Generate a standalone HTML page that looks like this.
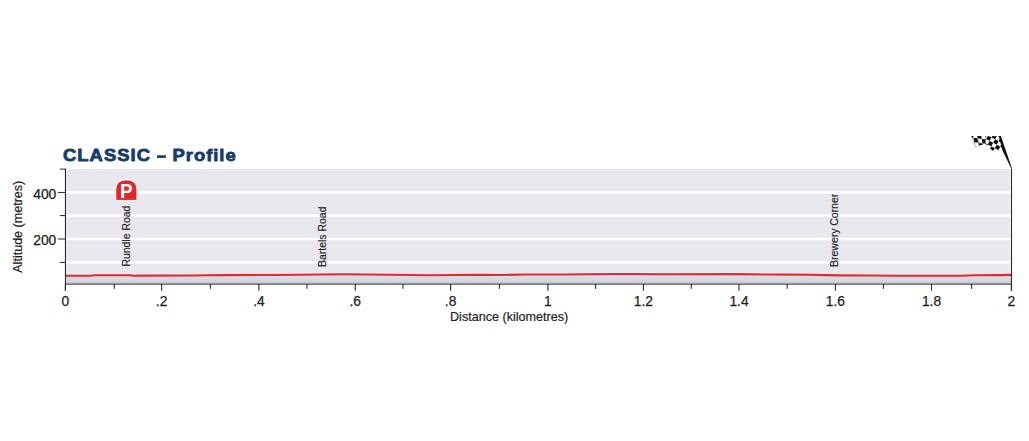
<!DOCTYPE html>
<html><head><meta charset="utf-8"><style>
html,body{margin:0;padding:0;background:#fff;}
body{width:1029px;height:441px;overflow:hidden;}
svg{display:block;}
text{font-family:"Liberation Sans",sans-serif;}
.t{font-size:13.8px;fill:#1e1e1e;stroke:#1e1e1e;stroke-width:0.25px;}
.a{font-size:12.2px;fill:#1e1e1e;stroke:#1e1e1e;stroke-width:0.2px;}
.a2{font-size:12.4px;fill:#1e1e1e;stroke:#1e1e1e;stroke-width:0.2px;}
.p{font-size:10.45px;fill:#1e1e1e;stroke:#1e1e1e;stroke-width:0.15px;}
.title{font-size:17px;font-weight:bold;fill:#163c69;stroke:#163c69;stroke-width:0.8px;stroke-linejoin:round;}
.pi{font-size:18.8px;font-weight:bold;fill:#fff;}
</style></head><body>
<svg width="1029" height="441" viewBox="0 0 1029 441">
<defs><linearGradient id="g" x1="0" y1="0" x2="0" y2="1"><stop offset="0" stop-color="#e2e2ea"/><stop offset="1" stop-color="#cfcfda"/></linearGradient><pattern id="chk" x="0" y="0" width="6" height="6" patternUnits="userSpaceOnUse"><rect width="6" height="6" fill="#fff"/><rect width="3" height="3" fill="#111"/><rect x="3" y="3" width="3" height="3" fill="#111"/></pattern></defs>
<rect x="66" y="169" width="944.2" height="116" fill="#e9e8ee"/>
<rect x="66" y="191.20" width="944.2" height="2.5" fill="#ffffff"/>
<rect x="66" y="214.35" width="944.2" height="2.5" fill="#ffffff"/>
<rect x="66" y="237.75" width="944.2" height="2.5" fill="#ffffff"/>
<rect x="66" y="261.15" width="944.2" height="2.5" fill="#ffffff"/>
<path d="M66,275.8 L91,275.75 L94,275.3 L130,275.3 L134,275.7 L140,275.6 L195,275.5 L206,275.2 L225,275.1 L276,275 L300,274.8 L320,274.45 L345,274.3 L365,274.55 L390,274.8 L430,275.2 L455,275 L480,274.85 L503,274.95 L525,274.45 L565,274.55 L585,274.3 L615,273.95 L638,273.95 L660,274.2 L740,274.1 L767,274.5 L790,274.6 L810,274.8 L825,275.1 L840,275.35 L870,275.5 L900,275.7 L960,275.7 L975,275.3 L1000,275.1 L1011,274.9 L1011,284 L66,284 Z" fill="url(#g)"/>
<path d="M66,275.8 L91,275.75 L94,275.3 L130,275.3 L134,275.7 L140,275.6 L195,275.5 L206,275.2 L225,275.1 L276,275 L300,274.8 L320,274.45 L345,274.3 L365,274.55 L390,274.8 L430,275.2 L455,275 L480,274.85 L503,274.95 L525,274.45 L565,274.55 L585,274.3 L615,273.95 L638,273.95 L660,274.2 L740,274.1 L767,274.5 L790,274.6 L810,274.8 L825,275.1 L840,275.35 L870,275.5 L900,275.7 L960,275.7 L975,275.3 L1000,275.1 L1011,274.9" fill="none" stroke="#e02a32" stroke-width="2.1" stroke-linejoin="round"/>
<defs><linearGradient id="bd" x1="0" y1="0" x2="0" y2="1"><stop offset="0" stop-color="#a4a4ac"/><stop offset="1" stop-color="#6c6c74"/></linearGradient></defs><rect x="66" y="282.9" width="945" height="2.1" fill="url(#bd)"/>
<rect x="64.9" y="168.5" width="1.1" height="122.5" fill="#2a2a2a"/>
<rect x="1010.95" y="168.5" width="1.1" height="122.3" fill="#2a2a2a"/>
<rect x="59.7" y="168.6" width="5.5" height="1" fill="#2a2a2a"/>
<rect x="58" y="191.95" width="7" height="1" fill="#2a2a2a"/>
<rect x="59.8" y="215.10" width="5.2" height="1" fill="#2a2a2a"/>
<rect x="58" y="238.50" width="7" height="1" fill="#2a2a2a"/>
<rect x="59.8" y="261.90" width="5.2" height="1" fill="#2a2a2a"/>
<rect x="64.85" y="284" width="1.1" height="6.7" fill="#2a2a2a"/>
<rect x="161.05" y="284" width="1.1" height="6.7" fill="#2a2a2a"/>
<rect x="258.35" y="284" width="1.1" height="6.7" fill="#2a2a2a"/>
<rect x="354.75" y="284" width="1.1" height="6.7" fill="#2a2a2a"/>
<rect x="450.05" y="284" width="1.1" height="6.7" fill="#2a2a2a"/>
<rect x="547.35" y="284" width="1.1" height="6.7" fill="#2a2a2a"/>
<rect x="642.85" y="284" width="1.1" height="6.7" fill="#2a2a2a"/>
<rect x="738.45" y="284" width="1.1" height="6.7" fill="#2a2a2a"/>
<rect x="834.85" y="284" width="1.1" height="6.7" fill="#2a2a2a"/>
<rect x="930.95" y="284" width="1.1" height="6.7" fill="#2a2a2a"/>
<rect x="1010.85" y="284" width="1.1" height="6.7" fill="#2a2a2a"/>
<rect x="113.75" y="284" width="1.1" height="4.8" fill="#2a2a2a"/>
<rect x="209.85" y="284" width="1.1" height="4.8" fill="#2a2a2a"/>
<rect x="306.45" y="284" width="1.1" height="4.8" fill="#2a2a2a"/>
<rect x="402.45" y="284" width="1.1" height="4.8" fill="#2a2a2a"/>
<rect x="498.85" y="284" width="1.1" height="4.8" fill="#2a2a2a"/>
<rect x="595.05" y="284" width="1.1" height="4.8" fill="#2a2a2a"/>
<rect x="690.75" y="284" width="1.1" height="4.8" fill="#2a2a2a"/>
<rect x="786.55" y="284" width="1.1" height="4.8" fill="#2a2a2a"/>
<rect x="882.85" y="284" width="1.1" height="4.8" fill="#2a2a2a"/>
<rect x="971.05" y="284" width="1.1" height="4.8" fill="#2a2a2a"/>
<text x="65.40" y="305.6" text-anchor="middle" class="t">0</text>
<text x="161.60" y="305.6" text-anchor="middle" class="t">.2</text>
<text x="258.90" y="305.6" text-anchor="middle" class="t">.4</text>
<text x="355.30" y="305.6" text-anchor="middle" class="t">.6</text>
<text x="450.60" y="305.6" text-anchor="middle" class="t">.8</text>
<text x="547.90" y="305.6" text-anchor="middle" class="t">1</text>
<text x="643.40" y="305.6" text-anchor="middle" class="t">1.2</text>
<text x="739.00" y="305.6" text-anchor="middle" class="t">1.4</text>
<text x="835.40" y="305.6" text-anchor="middle" class="t">1.6</text>
<text x="931.50" y="305.6" text-anchor="middle" class="t">1.8</text>
<text x="1011.40" y="305.6" text-anchor="middle" class="t">2</text>
<text x="56.3" y="198.7" text-anchor="end" class="t">400</text>
<text x="56.3" y="245.3" text-anchor="end" class="t">200</text>
<text x="509.1" y="320.7" text-anchor="middle" class="a" textLength="118.2" lengthAdjust="spacingAndGlyphs">Distance (kilometres)</text>
<text transform="translate(22.3,226.75) rotate(-90)" text-anchor="middle" class="a2" textLength="92" lengthAdjust="spacingAndGlyphs">Altitude (metres)</text>
<text transform="translate(63.0,160.5) scale(1.08,1.001)" class="title" textLength="80.5" lengthAdjust="spacing">CLASSIC</text>
<rect x="157" y="155.3" width="8.9" height="2.6" fill="#163c69"/>
<text transform="translate(172.5,160.5) scale(1.08,1.001)" class="title" textLength="58.5" lengthAdjust="spacing">Profile</text>
<text transform="translate(130,266.6) rotate(-90)" class="p">Rundle Road</text>
<text transform="translate(326.3,266.9) rotate(-90)" class="p">Bartels Road</text>
<text transform="translate(838.3,266.9) rotate(-90)" class="p">Brewery Corner</text>
<path d="M115.8,200.4 L115.8,190 C115.8,183.2 119.6,179.9 126.35,179.9 C133.1,179.9 136.9,183.2 136.9,190 L136.9,200.4 Z" fill="#e2262d" stroke="#ffffff" stroke-width="1" stroke-opacity="0.9"/>
<text transform="translate(126.3,197.9) scale(1,1.09)" text-anchor="middle" class="pi">P</text>
<defs><pattern id="chk2" x="0" y="0" width="8.4" height="8.4" patternUnits="userSpaceOnUse" patternTransform="translate(973.5,137.8) rotate(8) skewX(18)"><rect width="8.4" height="8.4" fill="#fff"/><rect width="4.2" height="4.2" fill="#111"/><rect x="4.2" y="4.2" width="4.2" height="4.2" fill="#111"/></pattern>
<pattern id="chk3" x="0" y="0" width="8" height="8" patternUnits="userSpaceOnUse" patternTransform="translate(988,135.5) rotate(28)"><rect width="8" height="8" fill="#fff"/><rect width="4" height="4" fill="#111"/><rect x="4" y="4" width="4" height="4" fill="#111"/></pattern>
<clipPath id="fc1"><path d="M971.3,136.1 L987,136.1 L986.9,143.6 L980.3,145.3 L975.7,147.0 Z"/></clipPath>
<clipPath id="fc2"><path d="M985.8,136.3 L1000.3,136.1 L1003.4,148.9 L999.7,149.9 L995.6,150.9 L992.6,150.4 L989,147.9 L985.4,143.4 Z"/></clipPath></defs>
<g clip-path="url(#fc1)"><rect x="960" y="130" width="50" height="25" fill="url(#chk2)"/></g>
<g clip-path="url(#fc2)"><rect x="960" y="130" width="50" height="25" fill="url(#chk3)"/></g>
<path d="M971.3,136.1 L975.6,147.2" stroke="#999" stroke-width="0.6" fill="none"/>
<path d="M998.8,136 L1000.9,136 L1011.9,168.3 L1011.1,168.3 L1002.3,150 Z" fill="#111"/>

</svg>
</body></html>
